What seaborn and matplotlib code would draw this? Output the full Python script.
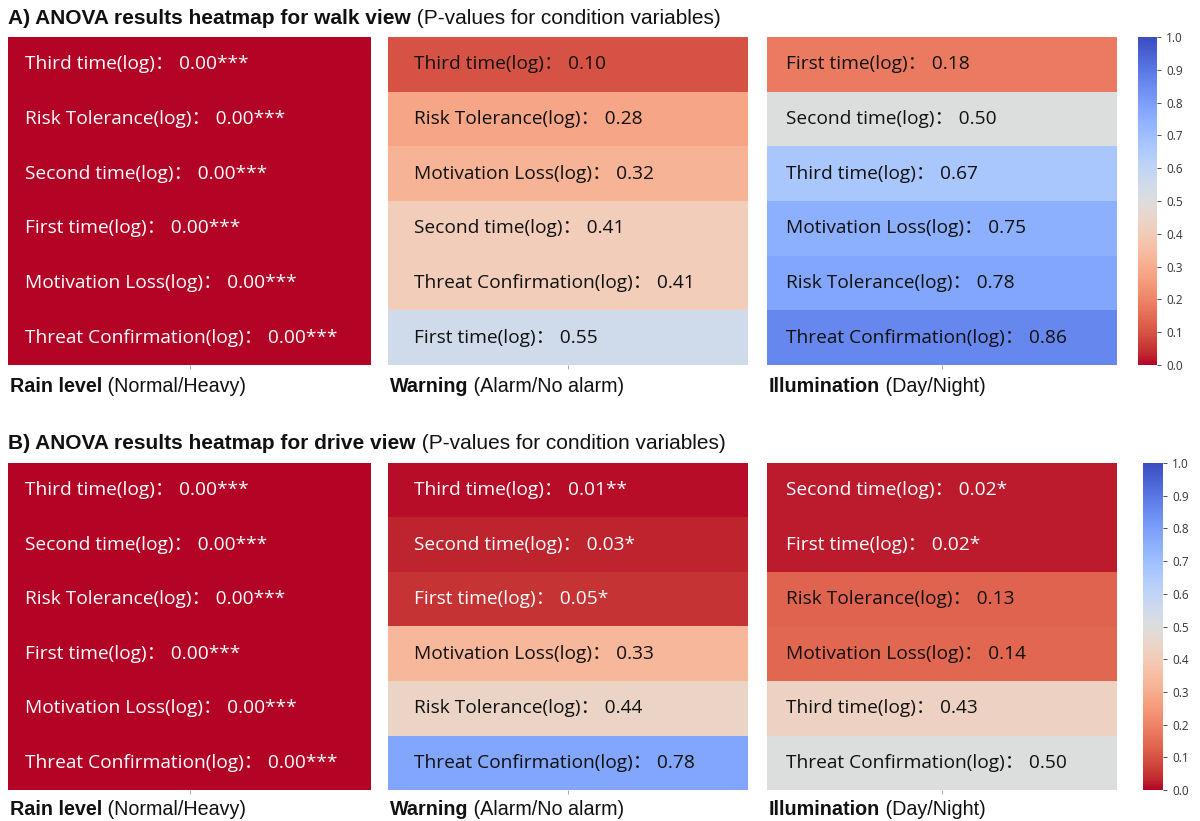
import numpy as np
import pandas as pd
import matplotlib
matplotlib.use("Agg")
import matplotlib.pyplot as plt
import seaborn as sns

sns.set_theme(style="white")
plt.rcParams["font.family"] = ["Open Sans", "Noto Sans CJK SC", "DejaVu Sans"]

# ---------------- walk view ----------------
walk_rain_vars = ["Third time(log)", "Risk Tolerance(log)", "Second time(log)",
                  "First time(log)", "Motivation Loss(log)", "Threat Confirmation(log)"]
walk_rain_p = [0.00, 0.00, 0.00, 0.00, 0.00, 0.00]
walk_rain_sig = ["***", "***", "***", "***", "***", "***"]

walk_warn_vars = ["Third time(log)", "Risk Tolerance(log)", "Motivation Loss(log)",
                  "Second time(log)", "Threat Confirmation(log)", "First time(log)"]
walk_warn_p = [0.10, 0.28, 0.32, 0.41, 0.41, 0.55]
walk_warn_sig = ["", "", "", "", "", ""]

walk_illum_vars = ["First time(log)", "Second time(log)", "Third time(log)",
                   "Motivation Loss(log)", "Risk Tolerance(log)", "Threat Confirmation(log)"]
walk_illum_p = [0.18, 0.50, 0.67, 0.75, 0.78, 0.86]
walk_illum_sig = ["", "", "", "", "", ""]

# ---------------- drive view ----------------
drive_rain_vars = ["Third time(log)", "Second time(log)", "Risk Tolerance(log)",
                   "First time(log)", "Motivation Loss(log)", "Threat Confirmation(log)"]
drive_rain_p = [0.00, 0.00, 0.00, 0.00, 0.00, 0.00]
drive_rain_sig = ["***", "***", "***", "***", "***", "***"]

drive_warn_vars = ["Third time(log)", "Second time(log)", "First time(log)",
                   "Motivation Loss(log)", "Risk Tolerance(log)", "Threat Confirmation(log)"]
drive_warn_p = [0.01, 0.03, 0.05, 0.33, 0.44, 0.78]
drive_warn_sig = ["**", "*", "*", "", "", ""]

drive_illum_vars = ["Second time(log)", "First time(log)", "Risk Tolerance(log)",
                    "Motivation Loss(log)", "Third time(log)", "Threat Confirmation(log)"]
drive_illum_p = [0.02, 0.02, 0.13, 0.14, 0.43, 0.50]
drive_illum_sig = ["*", "*", "", "", "", ""]

condition_names = ["Rain level", "Warning", "Illumination"]
condition_levels = ["(Normal/Heavy)", "(Alarm/No alarm)", "(Day/Night)"]
row_titles = [("A) ANOVA results heatmap for walk view", "(P-values for condition variables)"),
              ("B) ANOVA results heatmap for drive view", "(P-values for condition variables)")]
cbar_ticks = [0.0, 0.1, 0.2, 0.3, 0.4, 0.5, 0.6, 0.7, 0.8, 0.9, 1.0]

rows = [
    [(walk_rain_vars, walk_rain_p, walk_rain_sig),
     (walk_warn_vars, walk_warn_p, walk_warn_sig),
     (walk_illum_vars, walk_illum_p, walk_illum_sig)],
    [(drive_rain_vars, drive_rain_p, drive_rain_sig),
     (drive_warn_vars, drive_warn_p, drive_warn_sig),
     (drive_illum_vars, drive_illum_p, drive_illum_sig)],
]

W, H = 1200, 821
fig = plt.figure(figsize=(W / 100, H / 100), dpi=100)
renderer = fig.canvas.get_renderer()


def px_rect(x0, y0, x1, y1):
    return [x0 / W, 1 - y1 / H, (x1 - x0) / W, (y1 - y0) / H]


def two_part(x_px, y_px, bold, regular, size):
    t = fig.text(x_px / W, 1 - y_px / H, bold, fontweight="bold", fontsize=size,
                 family=["Liberation Sans"], va="center", ha="left", color="#111111")
    bb = t.get_window_extent(renderer)
    fig.text(bb.x1 / W, 1 - y_px / H, " " + regular, fontsize=size,
             family=["Liberation Sans"], va="center", ha="left", color="#111111")


panel_x = [(8, 371), (388, 748), (767, 1117)]
label_offset = [0.047, 0.072, 0.055]
row_y = [(37, 365), (463, 790)]
cbar_x = [(1138, 1157), (1143, 1163)]
title_y = [18, 443]
xlabel_y = [386, 809]

cmap = "coolwarm_r"
for r, panels in enumerate(rows):
    y0, y1 = row_y[r]
    mesh = None
    for c, (names, pvals, sig) in enumerate(panels):
        x0, x1 = panel_x[c]
        ax = fig.add_axes(px_rect(x0, y0, x1, y1))
        df = pd.DataFrame({"p": pvals}, index=names)
        sns.heatmap(df, ax=ax, cmap=cmap, vmin=0, vmax=1, cbar=False,
                    xticklabels=[""], yticklabels=False)
        mesh = ax.collections[0]
        ax.tick_params(axis="x", bottom=True, length=3, width=0.6, colors="#999999")
        ax.set_xlabel("")
        ax.set_ylabel("")
        for i, (nm, p, s) in enumerate(zip(names, pvals, sig)):
            color = "white" if p < 0.08 else "#111111"
            ax.text(label_offset[c], i + 0.5, f"{nm}： {p:.2f}{s}", ha="left", va="center",
                    fontsize=13.8, color=color)
        two_part(x0 + 2, xlabel_y[r], condition_names[c], condition_levels[c], 14.2)
    cx0, cx1 = cbar_x[r]
    cax = fig.add_axes(px_rect(cx0, y0, cx1, y1))
    cb = fig.colorbar(mesh, cax=cax, ticks=cbar_ticks)
    cb.outline.set_visible(False)
    cb.ax.tick_params(labelsize=8.5, length=3, width=0.6, colors="#333333")
    cb.ax.set_yticklabels([f"{t:.1f}" for t in cbar_ticks])
    two_part(8, title_y[r], row_titles[r][0], row_titles[r][1], 15)

fig.savefig("out.png", dpi=100, facecolor="white")
